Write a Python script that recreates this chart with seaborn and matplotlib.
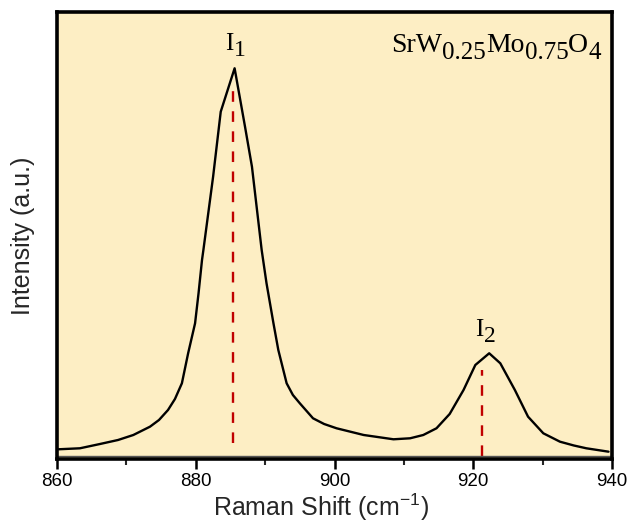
import numpy as np
import pandas as pd
import matplotlib
matplotlib.use("Agg")
import matplotlib.pyplot as plt
import seaborn as sns

# Raman spectrum (arbitrary intensity units)
shift = [860.2, 863.3, 866.2, 868.8, 871.0, 873.4, 874.7, 876.0, 877.0, 878.0,
         878.9, 879.9, 880.4, 880.9, 881.1, 882.5, 883.6, 885.6, 887.1, 888.1,
         889.5, 890.2, 891.2, 891.9, 893.1, 894.0, 895.0, 896.9, 898.5, 900.3,
         904.2, 908.5, 910.9, 912.8, 914.7, 916.6, 918.6, 920.3, 922.3, 923.9,
         926.0, 927.9, 930.1, 932.5, 934.5, 936.3, 939.5]
intensity = [9.7, 10.7, 15, 19, 24, 32.3, 39, 49, 60, 75.7,
             105.7, 135.7, 165.7, 199, 209, 282.3, 347.3, 390.7, 332.3, 292.3,
             209, 175.7, 135.7, 109, 75.7, 64, 55.7, 40.7, 35, 30.7,
             24, 19.7, 20.7, 24, 30.7, 45, 69, 94, 105.7, 95.7,
             69, 42.3, 25.7, 17.3, 13.5, 10.7, 7.3]

# dashed markers under the two peaks
peak_pos = [885.3, 921.3]
peak_low = [16, 3]
peak_high = [376, 89]

sns.set_theme(style="ticks")
plt.rcParams['font.family'] = ['Liberation Sans', 'DejaVu Sans']

fig = plt.figure(figsize=(6.28, 5.26), dpi=100)
ax = fig.add_axes([0.0908, 0.1274, 0.8837, 0.8498])
ax.set_facecolor('#FDEEC4')

df = pd.DataFrame({'shift': shift, 'intensity': intensity})
sns.lineplot(data=df, x='shift', y='intensity', color='black', lw=1.7, ax=ax)

for x0, lo, hi in zip(peak_pos, peak_low, peak_high):
    ax.plot([x0, x0], [lo, hi], color='#C00000', lw=1.7, ls=(0, (4.5, 4.0)))

# thin inner frame line just above the axis
ax.axhline(3, color='#555555', lw=1.0)

ax.set_xlim(860, 940)
ax.set_ylim(0, 447)
ax.set_xticks([860, 880, 900, 920, 940])
ax.set_xticks([870, 890, 910, 930], minor=True)
ax.set_yticks([])
ax.tick_params(axis='x', which='major', direction='out', length=7, width=1.8,
               labelsize=13.5, pad=3, colors='black')
ax.tick_params(axis='x', which='minor', direction='out', length=4, width=1.5)
for s in ax.spines.values():
    s.set_color('black')
    s.set_linewidth(2.6)

ax.set_xlabel('Raman Shift (cm$^{\\mathregular{-1}}$)', fontsize=18)
ax.set_ylabel('Intensity (a.u.)', fontsize=18)
ax.xaxis.set_label_coords(0.476, -0.072)
ax.yaxis.set_label_coords(-0.04, 0.5)


def sub_text(x, y, parts, size, sub_size, drop=4.5):
    # base / subscript pieces chained one after another
    prev = None
    for i, txt in enumerate(parts):
        is_sub = i % 2 == 1
        fs = sub_size if is_sub else size
        fam = ['Liberation Serif', 'DejaVu Serif']
        if prev is None:
            prev = ax.text(x, y, txt, fontsize=fs, family=fam, color='black',
                           va='bottom', ha='left')
        else:
            dy = -drop if is_sub else drop
            prev = ax.annotate(txt, xy=(1, 0), xycoords=prev,
                               xytext=(0, dy), textcoords='offset points',
                               va='bottom', ha='left', fontsize=fs,
                               family=fam, color='black')


sub_text(884.3, 404, ['I', '1'], 18, 17)
sub_text(920.3, 118, ['I', '2'], 18, 17)
sub_text(908.2, 401, ['SrW', '0.25', 'Mo', '0.75', 'O', '4'], 20, 18)

fig.savefig('out.png', dpi=100)
